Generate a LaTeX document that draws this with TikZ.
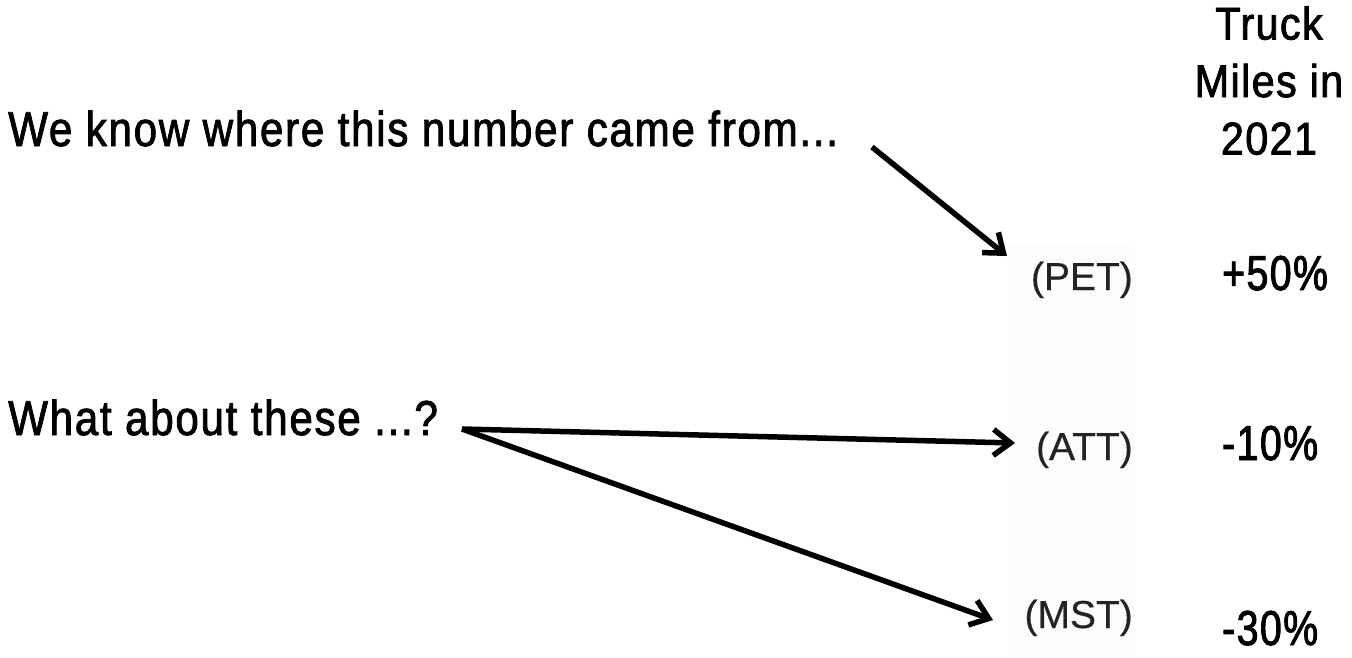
\documentclass[tikz,border=0pt]{standalone}
\usepackage{fontspec}
\setmainfont{Liberation Sans}
\newfontfamily\condA{Liberation Sans}[FakeStretch=0.86,FakeBold=1.7,LetterSpace=3.5]
\newfontfamily\condB{Liberation Sans}[FakeStretch=0.8,FakeBold=1.9,LetterSpace=3]
\newfontfamily\headf{Liberation Sans}[FakeStretch=0.9,FakeBold=1.7,LetterSpace=3]
\newfontfamily\codef{Liberation Sans}[FakeBold=0.4]
\usetikzlibrary{arrows.meta}
\definecolor{panel}{RGB}{252,252,252}
\definecolor{lbl}{RGB}{35,35,35}
\begin{document}
\begin{tikzpicture}[x=1pt,y=-1pt,
  note/.style={anchor=base west, inner sep=0pt, font=\condA\fontsize{49}{58}\selectfont},
  code/.style={anchor=base east, inner sep=0pt, text=lbl, font=\codef\fontsize{39}{46}\selectfont},
  pct/.style={anchor=base west, inner sep=0pt, font=\condB\fontsize{49}{58}\selectfont},
  head/.style={anchor=north, inner sep=0pt, align=center, font=\headf\fontsize{46}{57.5}\selectfont},
  arr/.style={line width=5.5pt, -{Straight Barb[length=17pt,width=26pt]}}]
\useasboundingbox (0,0) rectangle (1352,657);
\fill[panel] (1008,242) rectangle (1135,657);
\node[note] (q1) at (8,146) {We know where this number came from...};
\node[note] (q2) at (8,435) {What about these ...?};
\node[head] (hd) at (1269,6) {Truck\\Miles in\\2021};
\node[code] (pet) at (1133,290) {(PET)};
\node[code] (att) at (1133,460) {(ATT)};
\node[code] (mst) at (1133,628) {(MST)};
\node[pct] (p1) at (1222,290) {+50\%};
\node[pct] (p2) at (1222,460) {-10\%};
\node[pct] (p3) at (1222,645) {-30\%};
\coordinate (s1) at (872,147);
\coordinate (t1) at (1007,256);
\coordinate (s2) at (462,429);
\coordinate (t2) at (1015,443);
\coordinate (t3) at (993,620);
\draw[arr] (s1) -- (t1);
\draw[arr] (s2) -- (t2);
\draw[arr] (s2) -- (t3);
\end{tikzpicture}
\end{document}
